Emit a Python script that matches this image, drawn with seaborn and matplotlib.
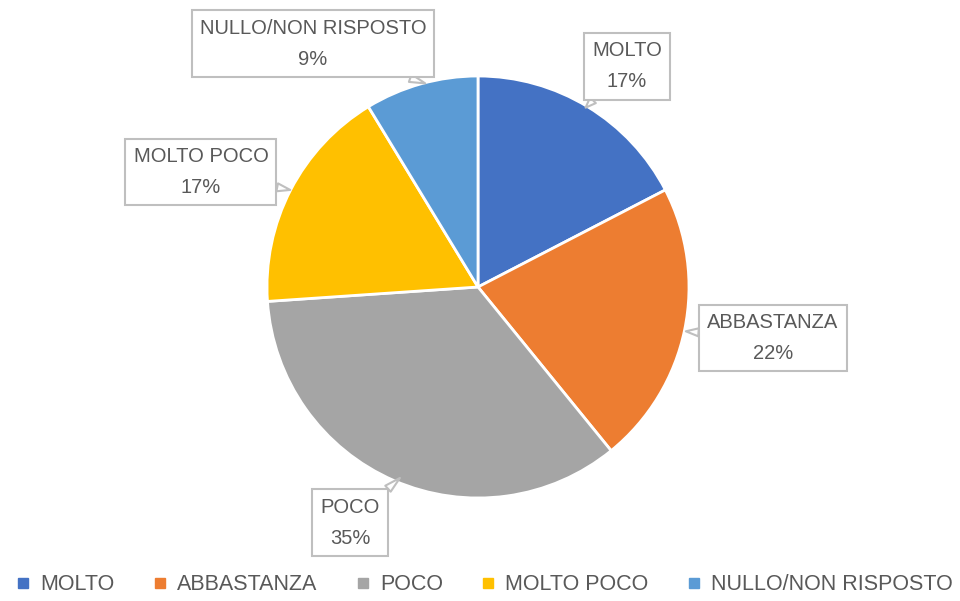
import matplotlib
matplotlib.use("Agg")
import matplotlib.pyplot as plt
import seaborn as sns
from matplotlib.lines import Line2D

# -------------------------------
# Data
# -------------------------------
categories = ["MOLTO", "ABBASTANZA", "POCO", "MOLTO POCO", "NULLO/NON RISPOSTO"]
counts = [4, 5, 8, 4, 2]
colors = ["#4472C4", "#ED7D31", "#A5A5A5", "#FFC000", "#5B9BD5"]

# callout placement (pie radius = 1)
label_xy = [(0.706, 1.047), (1.398, -0.242), (-0.607, -1.118), (-1.313, 0.545), (-0.782, 1.152)]
tip_xy = [(0.51, 0.85), (0.985, -0.21), (-0.37, -0.905), (-0.89, 0.46), (-0.25, 0.965)]

# -------------------------------
# Style
# -------------------------------
sns.set_style("white")
plt.rcParams["font.family"] = ["Liberation Sans", "DejaVu Sans"]
text_col = "#595959"

fig = plt.figure(figsize=(9.6, 6.01), dpi=100)
ax = fig.add_axes([0, 0, 1, 1])

wedges, _ = ax.pie(counts, colors=colors, startangle=90, counterclock=False,
                   radius=1, wedgeprops=dict(edgecolor="white", linewidth=2))

ax.set_xlim(-478 / 211, (960 - 478) / 211)
ax.set_ylim(-(601 - 287) / 211, 287 / 211)
ax.set_aspect("equal")
ax.axis("off")

total = sum(counts)
for cat, n, lxy, txy in zip(categories, counts, label_xy, tip_xy):
    pct = round(100 * n / total)
    ax.annotate(f"{cat}\n{pct}%", xy=txy, xytext=lxy, ha="center", va="center",
                fontsize=14.5, color=text_col, linespacing=1.85,
                bbox=dict(boxstyle="square,pad=0.4", fc="white", ec="#BFBFBF", lw=1.5),
                arrowprops=dict(arrowstyle="wedge,tail_width=0.4", fc="white",
                                ec="#BFBFBF", lw=1.5, shrinkA=0, shrinkB=0))

# -------------------------------
# Legend
# -------------------------------
handles = [Line2D([0], [0], marker="s", linestyle="", markersize=7,
                  markerfacecolor=c, markeredgecolor=c) for c in colors]
fig.legend(handles, categories, loc="center", bbox_to_anchor=(0.505, 1 - 585 / 601),
           ncol=5, frameon=False, fontsize=15.5, labelcolor=text_col,
           handlelength=0.6, handletextpad=0.5, columnspacing=1.8)

plt.savefig("out.png", dpi=100)
